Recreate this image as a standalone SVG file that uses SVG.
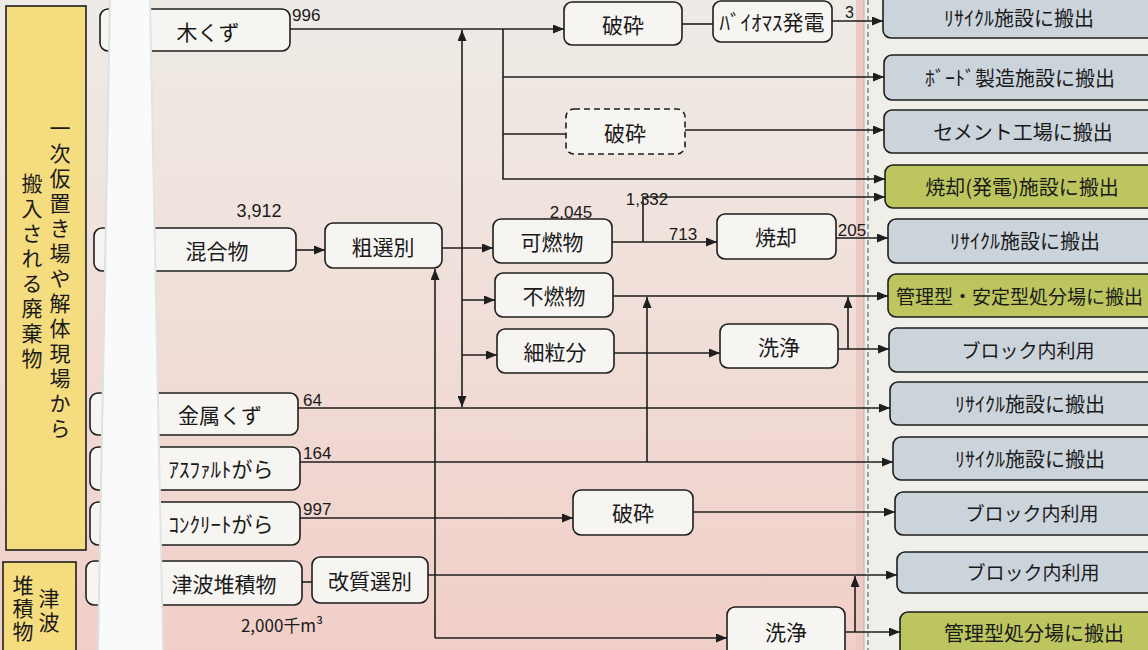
<svg xmlns="http://www.w3.org/2000/svg" width="1148" height="650" viewBox="0 0 1148 650">
<defs>
<linearGradient id="bgp" x1="0" y1="0" x2="0" y2="1">
<stop offset="0" stop-color="#eeebe6"/>
<stop offset="0.35" stop-color="#f0e2dc"/>
<stop offset="1" stop-color="#f1cfc8"/>
</linearGradient>
<marker id="ah" markerUnits="userSpaceOnUse" markerWidth="11" markerHeight="9" refX="11" refY="4.5" orient="auto">
<path d="M0,0 L11,4.5 L0,9 z" fill="#1e1e1e"/>
</marker>
<style>
.bx{fill:#f7f5f2;stroke:#1e1e1e;stroke-width:1.6}
.dash{stroke-dasharray:6 4}
.ob{fill:#cbd3db;stroke:#1e1e1e;stroke-width:1.6}
.og{fill:#bdc65e;stroke:#1e1e1e;stroke-width:1.6}
.yb{fill:#f5dc7e;stroke:#1e1e1e;stroke-width:1.6}
.t{font-family:"Noto Sans CJK JP","Noto Sans",sans-serif;font-size:21px;fill:#1a1a1a;text-anchor:middle;dominant-baseline:central}
.ot{font-family:"Noto Sans CJK JP","Noto Sans",sans-serif;font-size:20px;fill:#1a1a1a;text-anchor:middle;dominant-baseline:central}
.v{font-family:"Noto Sans CJK JP",sans-serif;font-size:21px;fill:#1a1a1a;writing-mode:vertical-rl;text-orientation:upright;letter-spacing:4px}
.num{font-family:"Liberation Sans","Noto Sans",sans-serif;font-size:17px;fill:#1a1a1a}
#connectors path{fill:none;stroke:#1e1e1e;stroke-width:1.6}
</style>
</defs>

<!-- background -->
<rect x="0" y="0" width="1148" height="650" fill="#efeee9"/>
<rect x="0" y="0" width="864" height="650" fill="url(#bgp)"/>
<rect x="856" y="0" width="8" height="650" fill="#eec9c4"/>
<line x1="864" y1="0" x2="864" y2="650" stroke="#b9b2ad" stroke-width="1"/>
<line x1="868" y1="0" x2="868" y2="650" stroke="#6e6e6e" stroke-width="1.2" stroke-dasharray="5 3"/>

<!-- left category boxes -->
<g id="cat1">
<rect class="yb" x="6" y="6" width="80" height="544"/>
<text class="v" x="60" y="118">一次仮置き場や解体現場から</text>
<text class="v" x="32" y="173">搬入される廃棄物</text>
</g>
<g id="cat2">
<rect class="yb" x="3" y="562" width="73" height="100"/>
<text class="v" x="49" y="588" style="letter-spacing:3px">津波</text>
<text class="v" x="23" y="575" style="letter-spacing:2px">堆積物</text>
</g>

<!-- input nodes -->
<g id="in-wood"><rect class="bx" x="100" y="9" width="190" height="42" rx="8"/><text class="t" x="208" y="31">木くず</text></g>
<g id="in-mixed"><rect class="bx" x="94" y="228" width="202" height="43" rx="8"/><text class="t" x="217" y="250">混合物</text></g>
<g id="in-metal"><rect class="bx" x="90" y="393" width="208" height="42" rx="8"/><text class="t" x="220" y="414">金属くず</text></g>
<g id="in-asphalt"><rect class="bx" x="90" y="447" width="210" height="43" rx="8"/><text class="t" x="221" y="468">ｱｽﾌｧﾙﾄがら</text></g>
<g id="in-concrete"><rect class="bx" x="90" y="502" width="210" height="43" rx="8"/><text class="t" x="221" y="523">ｺﾝｸﾘｰﾄがら</text></g>
<g id="in-tsunami"><rect class="bx" x="86" y="561" width="216" height="44" rx="8"/><text class="t" x="224" y="583">津波堆積物</text></g>

<!-- scan fold strip -->
<polygon points="110,0 150,0 163,650 98,650" fill="#f9fafa"/>
<line x1="110" y1="0" x2="98" y2="650" stroke="#dde1e1" stroke-width="2"/>
<line x1="150" y1="0" x2="163" y2="650" stroke="#e2e4e3" stroke-width="2"/>

<!-- process nodes -->
<g id="p-crush1"><rect class="bx" x="564" y="2" width="118" height="43" rx="8"/><text class="t" x="623" y="24">破砕</text></g>
<g id="p-biomass"><rect class="bx" x="713" y="1" width="119" height="41" rx="8"/><text class="t" x="772" y="21">ﾊﾞｲｵﾏｽ発電</text></g>
<g id="p-crush2"><rect class="bx dash" x="566" y="109" width="119" height="45" rx="8"/><text class="t" x="625" y="132">破砕</text></g>
<g id="p-rough"><rect class="bx" x="325" y="223" width="117" height="45" rx="8"/><text class="t" x="383" y="246">粗選別</text></g>
<g id="p-comb"><rect class="bx" x="493" y="219" width="119" height="44" rx="8"/><text class="t" x="552" y="241">可燃物</text></g>
<g id="p-incin"><rect class="bx" x="717" y="214" width="119" height="45" rx="8"/><text class="t" x="776" y="236">焼却</text></g>
<g id="p-noncomb"><rect class="bx" x="495" y="273" width="118" height="44" rx="8"/><text class="t" x="554" y="295">不燃物</text></g>
<g id="p-fine"><rect class="bx" x="497" y="329" width="117" height="44" rx="8"/><text class="t" x="555" y="351">細粒分</text></g>
<g id="p-wash1"><rect class="bx" x="720" y="324" width="118" height="44" rx="8"/><text class="t" x="779" y="346">洗浄</text></g>
<g id="p-crush3"><rect class="bx" x="573" y="490" width="120" height="45" rx="8"/><text class="t" x="633" y="512">破砕</text></g>
<g id="p-modify"><rect class="bx" x="312" y="557" width="116" height="46" rx="8"/><text class="t" x="370" y="580">改質選別</text></g>
<g id="p-wash2"><rect class="bx" x="727" y="607" width="118" height="50" rx="8"/><text class="t" x="786" y="631">洗浄</text></g>

<!-- output nodes -->
<g id="o1"><rect class="ob" x="883" y="-6" width="280" height="44" rx="8"/><text class="ot" x="1019" y="17">ﾘｻｲｸﾙ施設に搬出</text></g>
<g id="o2"><rect class="ob" x="884" y="55" width="280" height="45" rx="8"/><text class="ot" x="1020" y="77">ﾎﾞｰﾄﾞ製造施設に搬出</text></g>
<g id="o3"><rect class="ob" x="884" y="110" width="280" height="43" rx="8"/><text class="ot" x="1023" y="131">セメント工場に搬出</text></g>
<g id="o4"><rect class="og" x="885" y="165" width="280" height="43" rx="8"/><text class="ot" x="1022" y="186">焼却(発電)施設に搬出</text></g>
<g id="o5"><rect class="ob" x="888" y="219" width="280" height="44" rx="8"/><text class="ot" x="1025" y="240">ﾘｻｲｸﾙ施設に搬出</text></g>
<g id="o6"><rect class="og" x="888" y="274" width="280" height="43" rx="8"/><text class="ot" x="896" y="295" style="text-anchor:start;font-size:19px">管理型・安定型処分場に搬出</text></g>
<g id="o7"><rect class="ob" x="889" y="328" width="280" height="44" rx="8"/><text class="ot" x="1028" y="349" style="font-size:19px">ブロック内利用</text></g>
<g id="o8"><rect class="ob" x="890" y="382" width="280" height="43" rx="8"/><text class="ot" x="1030" y="403">ﾘｻｲｸﾙ施設に搬出</text></g>
<g id="o9"><rect class="ob" x="893" y="437" width="280" height="43" rx="8"/><text class="ot" x="1030" y="458">ﾘｻｲｸﾙ施設に搬出</text></g>
<g id="o10"><rect class="ob" x="895" y="492" width="280" height="43" rx="8"/><text class="ot" x="1032" y="512" style="font-size:19px">ブロック内利用</text></g>
<g id="o11"><rect class="ob" x="897" y="552" width="280" height="41" rx="8"/><text class="ot" x="1033" y="571" style="font-size:19px">ブロック内利用</text></g>
<g id="o12"><rect class="og" x="900" y="612" width="280" height="50" rx="8"/><text class="ot" x="1034" y="632">管理型処分場に搬出</text></g>

<!-- connectors -->
<g id="connectors">
<path d="M290,29 H564" marker-end="url(#ah)"/>
<path d="M682,24 H713"/>
<path d="M832,21 H883" marker-end="url(#ah)"/>
<path d="M503,29 V179 H885" marker-end="url(#ah)"/>
<path d="M503,77 H884" marker-end="url(#ah)"/>
<path d="M503,134 H566"/>
<path d="M685,130 H884" marker-end="url(#ah)"/>
<path d="M462,248 V30" marker-end="url(#ah)"/>
<path d="M462,248 V407" marker-end="url(#ah)"/>
<path d="M442,248 H493" marker-end="url(#ah)"/>
<path d="M462,300 H495" marker-end="url(#ah)"/>
<path d="M462,355 H497" marker-end="url(#ah)"/>
<path d="M435,638 V269" marker-end="url(#ah)"/>
<path d="M435,638 H727" marker-end="url(#ah)"/>
<path d="M296,250 H325" marker-end="url(#ah)"/>
<path d="M612,242 H717" marker-end="url(#ah)"/>
<path d="M643,242 V197 H885" marker-end="url(#ah)"/>
<path d="M836,238 H888" marker-end="url(#ah)"/>
<path d="M613,296 H888" marker-end="url(#ah)"/>
<path d="M614,353 H720" marker-end="url(#ah)"/>
<path d="M838,349 H889" marker-end="url(#ah)"/>
<path d="M848,349 V297" marker-end="url(#ah)"/>
<path d="M298,408 H890" marker-end="url(#ah)"/>
<path d="M300,462 H893" marker-end="url(#ah)"/>
<path d="M647,462 V297" marker-end="url(#ah)"/>
<path d="M300,518 H573" marker-end="url(#ah)"/>
<path d="M693,512 H895" marker-end="url(#ah)"/>
<path d="M302,582 H312"/>
<path d="M428,575 H897" marker-end="url(#ah)"/>
<path d="M855,632 V576" marker-end="url(#ah)"/>
<path d="M845,632 H900" marker-end="url(#ah)"/>
</g>

<!-- quantity labels -->
<g id="labels">
<text class="num" x="292" y="21">996</text>
<text class="num" x="845" y="18" style="font-size:16px">3</text>
<text class="num" x="259" y="217" text-anchor="middle" style="font-size:18px">3,912</text>
<text class="num" x="571" y="218" text-anchor="middle">2,045</text>
<text class="num" x="647" y="205" text-anchor="middle">1,332</text>
<text class="num" x="683" y="240" text-anchor="middle">713</text>
<text class="num" x="852" y="236" text-anchor="middle">205</text>
<text class="num" x="303" y="406">64</text>
<text class="num" x="303" y="459">164</text>
<text class="num" x="303" y="515">997</text>
<text class="num" x="282" y="632" text-anchor="middle" style="font-family:'Noto Sans CJK JP','Liberation Sans',sans-serif">2,000千m³</text>
</g>
</svg>
